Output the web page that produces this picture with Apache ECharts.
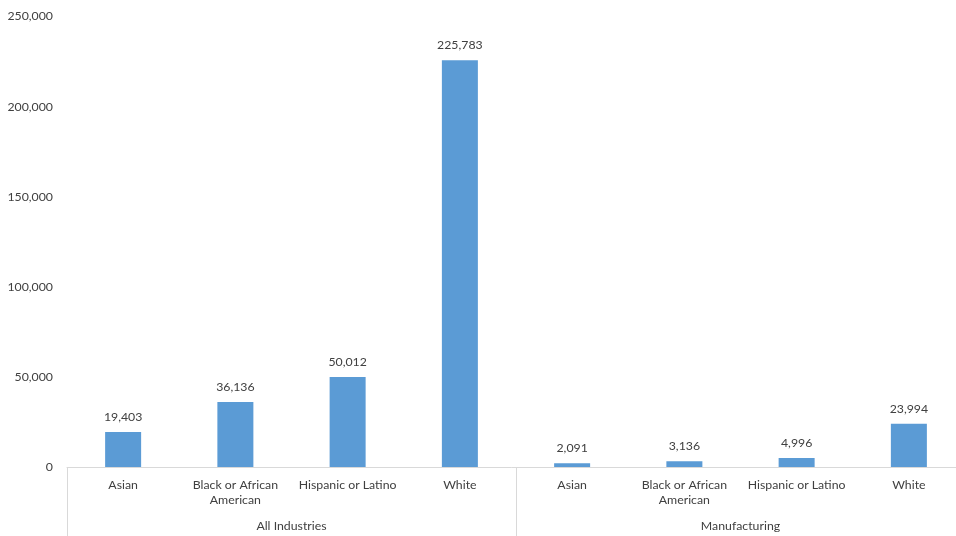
<!DOCTYPE html>
<html><head><meta charset="utf-8">
<script src="https://cdn.jsdelivr.net/npm/echarts@6/dist/echarts.min.js"></script>
<style>html,body{margin:0;padding:0;background:#fff}#c{width:956px;height:536px}</style>
</head><body><div id="c"></div>
<script>
const categories = ["Asian","Black or African\nAmerican","Hispanic or Latino","White","Asian","Black or African\nAmerican","Hispanic or Latino","White"];
const values = [19403, 36136, 50012, 225783, 2091, 3136, 4996, 23994];
const groups = ["All Industries","Manufacturing"];
const yTicks = {min: 0, max: 250000, interval: 50000};

const FONT = 'Lato';
const TXT = '#404040';
const chart = echarts.init(document.getElementById('c'));
chart.setOption({
  animation: false,
  textStyle: {fontFamily: FONT},
  grid: {left: 67, top: 16.5, width: 898, bottom: 69, containLabel: false, outerBoundsMode: 'none'},
  xAxis: [{
    type: 'category', data: categories, position: 'bottom',
    axisLine: {show: true, lineStyle: {color: '#d9d9d9', width: 1}},
    axisTick: {show: false},
    axisLabel: {interval: 0, color: TXT, fontFamily: FONT, fontSize: 12.3, margin: 11, lineHeight: 15}
  }, {
    type: 'category', data: groups, position: 'bottom',
    axisLine: {show: false},
    axisTick: {show: true, length: 72, lineStyle: {color: '#d9d9d9', width: 1}},
    axisLabel: {interval: 0, color: TXT, fontFamily: FONT, fontSize: 12.3, margin: 53}
  }],
  yAxis: {
    type: 'value', min: yTicks.min, max: yTicks.max, interval: yTicks.interval,
    axisLine: {show: false}, axisTick: {show: false}, splitLine: {show: false},
    axisLabel: {color: TXT, fontFamily: FONT, fontSize: 12.3, margin: 14,
      formatter: v => v.toLocaleString('en-US')}
  },
  series: [{
    type: 'bar', xAxisIndex: 0, data: values, barWidth: 36,
    itemStyle: {color: '#5b9bd5'},
    label: {show: true, position: 'top', distance: 9, color: TXT, fontFamily: FONT, fontSize: 12.3,
      formatter: p => p.value.toLocaleString('en-US')}
  }]
});
</script></body></html>
